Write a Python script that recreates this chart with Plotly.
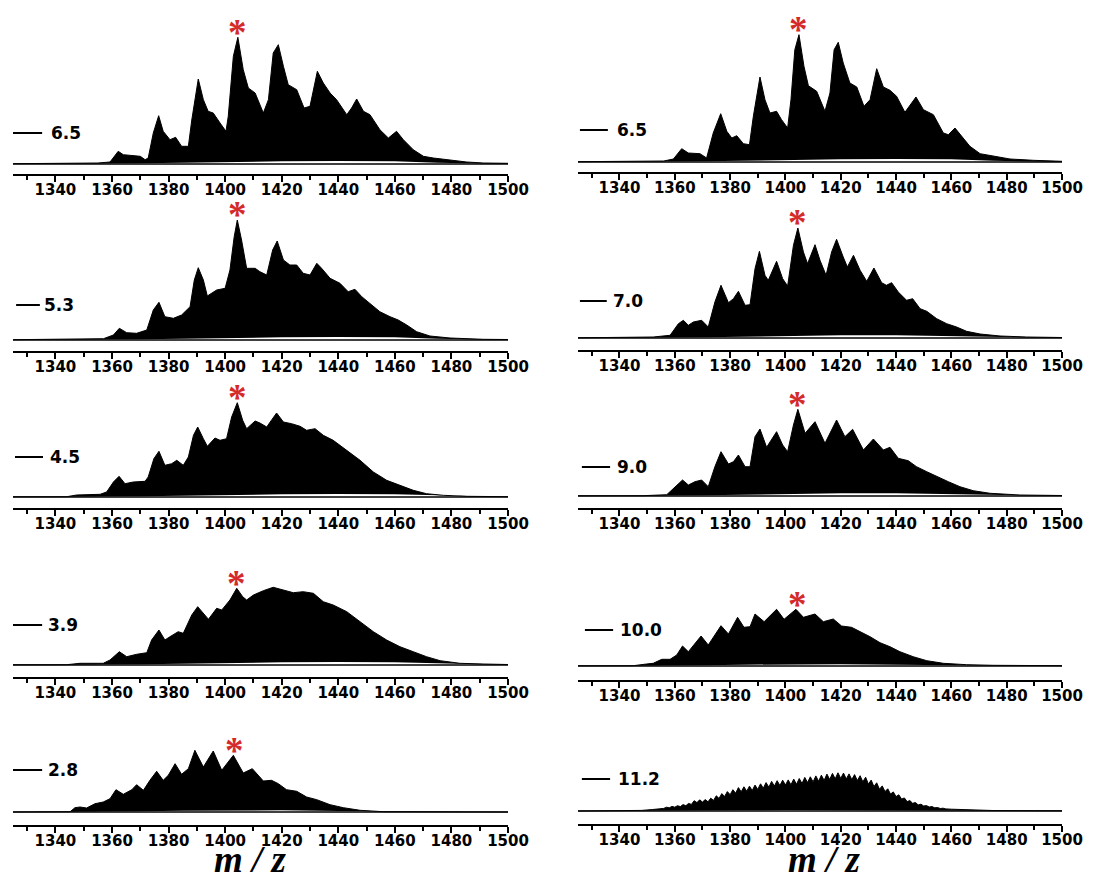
import plotly.graph_objects as go

# ---------------------------------------------------------------------------
# Spectra (m/z, intensity in arbitrary units, common scale for all panels)
# ---------------------------------------------------------------------------
MZ_RANGE = [1325, 1500]

# left column: 6.5, 5.3, 4.5, 3.9, 2.8
MZ_L1 = [1325, 1345, 1355, 1359.3, 1361, 1362.2, 1364, 1370, 1371.7, 1372.8, 1374.6, 1376.5,
         1378.1, 1380.5, 1382.5, 1384.6, 1387, 1388.2, 1390.5, 1392.3, 1394, 1395.8, 1398.2,
         1400.3, 1401.1, 1402.9, 1404.5, 1406.4, 1408.2, 1410.6, 1413.5, 1415.3, 1417, 1418.8,
         1420.6, 1422.3, 1425.3, 1427.9, 1430, 1432.6, 1434.7, 1437.1, 1439.4, 1443, 1444.7,
         1446.5, 1448.9, 1451.2, 1454.7, 1457.7, 1460.6, 1463, 1466.5, 1470.1, 1473.6, 1479.5,
         1485.4, 1491.3, 1500]
INT_L1 = [0.3, 0.7, 1.0, 2.0, 9.0, 12.7, 9.3, 7.7, 4.3, 6.0, 31.0, 48.3,
          32.7, 24.3, 26.7, 17.7, 17.7, 44.0, 85.0, 64.3, 52.7, 51.0, 41.0,
          32.7, 47.7, 107.7, 126.7, 94.3, 76.0, 71.0, 51.0, 64.3, 111.0, 119.3,
          97.7, 79.3, 74.3, 56.0, 57.7, 92.7, 81.0, 71.0, 64.3, 49.3, 56.0,
          65.0, 52.7, 49.3, 34.3, 26.0, 32.7, 24.3, 14.3, 7.7, 6.0, 3.7,
          2.0, 1.0, 0.7]

MZ_L2 = [1325, 1345, 1357, 1360.5, 1362.6, 1365.2, 1368.7, 1372.3, 1374.6, 1376.6, 1378.7,
         1381.7, 1384.6, 1387.6, 1389.1, 1390.5, 1392.3, 1393.7, 1397, 1400, 1401.7, 1403.2,
         1404.3, 1405.8, 1407.6, 1410.6, 1412.3, 1414.7, 1416.8, 1418.4, 1420.6, 1422.9,
         1425.3, 1427.6, 1430, 1432.4, 1434.1, 1437.1, 1440.6, 1443.5, 1445.9, 1448.3, 1451.2,
         1454.7, 1458.3, 1461.2, 1464.2, 1467.7, 1472.4, 1479.5, 1491.3, 1500]
INT_L2 = [0.3, 0.7, 1.3, 5.0, 11.7, 7.3, 6.7, 10.0, 30.0, 37.7, 23.3,
          21.7, 25.0, 33.3, 60.0, 72.3, 60.0, 44.0, 50.0, 51.7, 70.0, 103.3,
          120.0, 100.0, 71.7, 71.7, 68.3, 65.0, 90.0, 99.0, 80.0, 75.0,
          75.0, 66.7, 65.0, 76.7, 71.7, 61.7, 56.7, 48.3, 50.7, 43.3, 36.7,
          28.3, 23.3, 20.0, 15.0, 8.3, 4.0, 2.0, 0.7, 0.5]

MZ_L3 = [1325, 1344, 1347.5, 1355.8, 1358.1, 1360.5, 1362.5, 1364.6, 1367.5, 1371.7, 1372.8,
         1374.8, 1376.6, 1378.7, 1381.1, 1382.9, 1385.2, 1387, 1388.8, 1390.3, 1392.3, 1393.7,
         1396.4, 1398.2, 1400.5, 1402.3, 1404.3, 1406.2, 1407.6, 1410.6, 1412.3, 1414.7,
         1416.5, 1418.2, 1420.6, 1423.5, 1426.5, 1428.8, 1431.8, 1434.7, 1438.2, 1443, 1447.7,
         1452.4, 1457.1, 1461.8, 1466.5, 1471.2, 1477.1, 1485.4, 1500]
INT_L3 = [0.2, 0.3, 2.0, 2.7, 5.0, 15.0, 20.7, 13.3, 15.0, 15.7, 20.0,
          38.3, 45.7, 31.7, 33.3, 36.7, 31.7, 40.0, 61.7, 70.0, 58.3, 50.7,
          59.0, 56.7, 58.3, 80.0, 94.3, 76.7, 68.3, 76.0, 74.0, 70.0,
          77.3, 84.0, 75.0, 73.3, 70.7, 66.7, 68.3, 61.7, 56.7, 46.7, 36.7,
          25.0, 16.7, 11.7, 6.7, 3.3, 1.7, 0.7, 0.3]

MZ_L4 = [1325, 1344, 1348.7, 1356.9, 1359.3, 1362.6, 1365.2, 1368.7, 1372.3, 1374, 1376.6,
         1378.7, 1380.5, 1383.4, 1385.2, 1388.2, 1390.3, 1392.3, 1394.1, 1397, 1398.8, 1401.7,
         1404.1, 1406.2, 1407.6, 1410, 1413.5, 1417, 1420.6, 1424.1, 1427.6, 1431.2, 1434.7,
         1438.2, 1443, 1447.7, 1452.4, 1457.1, 1461.8, 1466.5, 1471.2, 1476, 1483, 1491.3, 1500]
INT_L4 = [0.2, 0.3, 1.7, 1.7, 5.0, 13.3, 8.3, 10.7, 12.3, 25.0, 35.0,
          25.0, 28.3, 33.3, 31.7, 50.0, 58.3, 51.7, 45.7, 56.7, 55.0, 65.0,
          76.7, 68.3, 65.0, 70.0, 74.3, 77.7, 75.0, 72.3, 73.3, 71.7, 63.3,
          60.0, 53.3, 43.3, 33.3, 25.0, 18.3, 13.3, 8.3, 4.3, 1.7, 1.0, 0.5]

MZ_L5 = [1325, 1345.2, 1346.9, 1348.7, 1351, 1354, 1356.9, 1359.3, 1361.4, 1364, 1367,
         1368.7, 1371.1, 1373.4, 1375.8, 1378.1, 1379.9, 1382.3, 1384.6, 1387, 1389.3,
         1392.3, 1395.8, 1398.8, 1402.9, 1406.4, 1409.6, 1413.5, 1416.4, 1418.8, 1421.7,
         1425.3, 1428.8, 1432.4, 1437.1, 1441.8, 1447.7, 1455.9, 1500]
INT_L5 = [0.0, 0.3, 4.3, 5.0, 4.0, 8.3, 10.0, 13.3, 22.3, 17.7, 22.3,
          27.3, 21.7, 31.7, 40.7, 31.7, 36.7, 48.3, 37.7, 43.3, 61.7,
          45.0, 61.0, 41.7, 56.7, 39.0, 43.3, 31.0, 31.7, 28.3, 22.3,
          20.7, 15.0, 12.3, 7.3, 4.3, 1.7, 0.3, 0.0]

# right column: 6.5, 7.0, 9.0, 10.0, 11.2
MZ_R1 = [1325, 1345, 1356, 1359.5, 1362.5, 1364.9, 1369.1, 1371.5, 1373.9, 1376.6, 1378.8,
         1380.6, 1382.4, 1384.8, 1387, 1388.4, 1390.8, 1392.6, 1394.4, 1396.8, 1398.6, 1400.8,
         1402, 1403.4, 1404.9, 1406.7, 1408.3, 1411.3, 1414.3, 1416.1, 1417.6, 1419.1, 1420.9,
         1423.3, 1425.8, 1428.4, 1430.6, 1433, 1435.4, 1437.8, 1440.2, 1443.2, 1445, 1447.2,
         1449.9, 1453.5, 1457.1, 1458.9, 1461.3, 1463.7, 1466.7, 1470.4, 1475.2, 1481.2,
         1489.6, 1500]
INT_R1 = [0.3, 0.7, 1.0, 3.0, 13.3, 9.0, 8.3, 4.0, 29.0, 48.3, 30.7,
          24.0, 26.3, 18.3, 17.3, 45.7, 85.0, 62.3, 49.0, 50.7, 42.3, 34.0,
          62.3, 112.3, 127.3, 95.7, 76.3, 70.7, 50.7, 69.0, 112.3, 119.7, 99.0,
          79.0, 75.0, 55.7, 62.3, 93.3, 75.0, 71.7, 65.7, 49.7, 56.3, 65.0,
          52.3, 47.3, 29.0, 27.3, 34.0, 25.7, 15.7, 8.3, 5.7, 3.0,
          1.7, 0.7]

MZ_R2 = [1325, 1342.6, 1352.2, 1358.3, 1361.3, 1363.1, 1364.9, 1366.7, 1369.7, 1372.1, 1374.5,
         1376.7, 1379.4, 1381.2, 1383, 1385.4, 1387.2, 1389, 1390.6, 1392.6, 1393.8, 1396.8,
         1399, 1400.8, 1402.9, 1404.5, 1406.5, 1408, 1409.5, 1410.7, 1412.5, 1414.7, 1416.7,
         1418.5, 1420.9, 1422.4, 1424.6, 1427, 1429.4, 1432, 1434.8, 1436.5, 1438.4, 1440.8,
         1443.8, 1446, 1448.7, 1451.1, 1454.7, 1458.3, 1461.9, 1465.5, 1470.4, 1477.6,
         1487.2, 1500]
INT_R2 = [0.2, 0.3, 1.0, 2.7, 14.3, 17.7, 12.7, 16.0, 17.7, 11.0, 36.0,
          52.7, 35.3, 39.3, 46.7, 32.7, 33.3, 69.3, 86.7, 62.7, 57.7, 76.7,
          59.3, 52.0, 92.7, 110.0, 86.0, 74.3, 86.0, 93.3, 77.7, 62.7, 86.0,
          98.7, 81.0, 71.0, 82.7, 67.7, 56.7, 70.0, 55.3, 52.7, 55.3, 46.0,
          37.7, 39.3, 29.3, 26.7, 19.3, 14.3, 11.0, 6.7, 4.0, 2.0,
          1.0, 0.5]

MZ_R3 = [1325, 1348.6, 1357.1, 1360.1, 1362.8, 1364.9, 1367.3, 1369.7, 1372.1, 1374.5, 1376.7,
         1379.4, 1381.2, 1383, 1385.4, 1387.2, 1389, 1390.8, 1393.2, 1396.8, 1399, 1400.8,
         1402.9, 1404.5, 1407.1, 1410.7, 1414.3, 1418.5, 1421.5, 1424.3, 1428.2, 1431.8,
         1435.4, 1437.8, 1440.8, 1444.4, 1447.4, 1451.1, 1454.7, 1458.9, 1463.1, 1467.9,
         1474, 1484.8, 1500]
INT_R3 = [0.2, 0.3, 1.3, 9.3, 16.0, 11.0, 14.3, 16.0, 9.3, 29.3, 44.3,
          32.0, 34.3, 41.0, 29.3, 29.3, 59.3, 67.0, 48.7, 64.3, 51.0, 44.3,
          71.0, 86.7, 62.7, 74.3, 52.7, 76.0, 59.3, 66.7, 46.0, 57.0,
          46.0, 48.7, 37.7, 35.3, 29.3, 24.3, 19.3, 14.3, 9.3, 5.3,
          2.7, 1.0, 0.5]

MZ_R4 = [1325, 1345, 1349.8, 1352.2, 1355.3, 1358.3, 1360.7, 1362.8, 1364.9, 1369.5, 1372.1,
         1376.7, 1379.4, 1382.7, 1385, 1387.2, 1389, 1392.3, 1396.8, 1399.5, 1403.8, 1406.5,
         1410.7, 1413.7, 1417.3, 1420.3, 1423.9, 1427, 1430.6, 1434.2, 1437.8, 1441.4,
         1446.2, 1451.1, 1457.1, 1465.5, 1475.2, 1500]
INT_R4 = [0.2, 0.3, 2.0, 2.7, 6.7, 6.7, 11.0, 20.0, 14.3, 30.0, 21.0,
          40.3, 32.0, 48.7, 38.7, 39.3, 52.0, 44.3, 56.7, 46.7, 56.7, 48.7,
          52.0, 44.3, 47.0, 40.0, 38.7, 34.3, 29.3, 23.3, 19.3, 14.3,
          9.3, 5.3, 2.7, 1.3, 0.7, 0.3]

# 11.2: resolved isotope comb
MZ_R5 = [1325, 1340, 1348, 1352, 1355,
         1356, 1357, 1358, 1359, 1360, 1361, 1362, 1363, 1364, 1365, 1366, 1367, 1368, 1369,
         1370, 1371, 1372, 1373, 1374, 1375, 1376, 1377, 1378, 1379, 1380, 1381, 1382, 1383,
         1384, 1385, 1386, 1387, 1388, 1389, 1390, 1391, 1392, 1393, 1394, 1395, 1396, 1397,
         1398, 1399, 1400, 1401, 1402, 1403, 1404, 1405, 1406, 1407, 1408, 1409, 1410, 1411,
         1412, 1413, 1414, 1415, 1416, 1417, 1418, 1419, 1420, 1421, 1422, 1423, 1424, 1425,
         1426, 1427, 1428, 1429, 1430, 1431, 1432, 1433, 1434, 1435, 1436, 1437, 1438, 1439,
         1440, 1441, 1442, 1443, 1444, 1445, 1446, 1447, 1448, 1449, 1450, 1451, 1452, 1453,
         1454, 1455, 1456, 1457, 1458,
         1460, 1466, 1475, 1490, 1500]
INT_R5 = [0.0, 0.2, 0.6, 1.5, 2.4,
          2.6, 3.8, 3.2, 4.6, 3.8, 5.3, 4.4, 6.4, 5.3, 7.6, 6.6, 10.3, 8.4, 11.2,
          8.9, 11.4, 9.2, 12.8, 10.6, 15.2, 12.6, 17.4, 14.5, 19.4, 16.3, 21.3, 17.8, 23.4,
          19.2, 24.2, 19.8, 24.8, 20.5, 25.9, 21.6, 27.2, 22.8, 28.4, 23.8, 29.6, 24.9, 30.3,
          25.5, 30.8, 25.9, 31.1, 26.2, 31.9, 26.7, 32.5, 27.5, 33.6, 28.4, 34.2, 29.1, 35.1,
          29.7, 35.8, 30.6, 36.9, 31.5, 37.6, 32.2, 38.2, 32.6, 37.9, 32.1, 37.1, 31.4, 36.4,
          30.5, 35.3, 29.2, 33.8, 26.9, 30.9, 24.4, 28.2, 21.8, 25.1, 19.4, 22.2, 16.9, 19.1,
          14.4, 16.2, 11.9, 13.1, 9.4, 10.4, 7.7, 8.5, 6.1, 6.8, 5.0, 5.4, 4.0, 4.4,
          3.2, 3.5, 2.5, 2.8, 2.1,
          1.8, 1.0, 0.5, 0.3, 0.2]

# lower edge of the unresolved isotope envelope
LOWER_MZ = [1325, 1355, 1370, 1385, 1400, 1420, 1440, 1460, 1475, 1490, 1500]
LOW_L1 = [0, 0, 0.7, 1.3, 2.0, 2.7, 3.0, 2.7, 1.3, 0.3, 0]
LOW_L2 = [0, 0, 0.7, 1.3, 2.0, 2.7, 3.0, 2.7, 1.3, 0.3, 0]
LOW_L3 = [0, 0, 0.7, 1.3, 2.0, 2.7, 3.0, 2.7, 1.7, 0.3, 0]
LOW_L4 = [0, 0, 0.7, 1.3, 2.0, 2.7, 3.0, 2.7, 1.7, 0.5, 0]
LOW_L5 = [0, 0, 0.7, 1.3, 1.7, 1.7, 1.0, 0.3, 0, 0, 0]
LOW_R1 = [0, 0, 0.7, 1.3, 2.0, 2.7, 3.0, 2.7, 1.3, 0.3, 0]
LOW_R2 = [0, 0, 0.7, 1.3, 2.0, 2.7, 2.7, 2.0, 1.0, 0.3, 0]
LOW_R3 = [0, 0, 0.7, 1.3, 2.0, 2.7, 2.7, 2.0, 1.0, 0.3, 0]
LOW_R4 = [0, 0, 0.7, 1.3, 1.7, 1.7, 1.3, 0.7, 0.3, 0, 0]
LOW_R5 = [0, 0, 0.3, 0.7, 1.0, 1.0, 1.0, 0.7, 0.3, 0, 0]

LABELS_LEFT = ["6.5", "5.3", "4.5", "3.9", "2.8"]
LABELS_RIGHT = ["6.5", "7.0", "9.0", "10.0", "11.2"]
# m/z of the starred species in each panel (None = not marked)
STAR_LEFT = [1404.5, 1404.3, 1404.3, 1404.1, 1403.4]
STAR_RIGHT = [1404.9, 1404.5, 1404.5, 1404.2, None]

TICK_MAJOR = 1340
TICK_STEP = 20
TICK_MINOR = 1330

# ---------------------------------------------------------------------------
# Page geometry (pixels)
# ---------------------------------------------------------------------------
W, H = 1096, 881
PANEL_H = 160
COLS = {"L": (13, 508), "R": (578, 1062)}
# (baseline px, axis line px) per row
ROWS_L = [(164, 174), (340, 351), (497, 508), (665, 677), (812, 825)]
ROWS_R = [(162, 172), (338, 350), (496, 508), (666, 680), (811, 824)]
# label dash (x0, x1, y) and text x, in data units of each panel
LAB_L = [(1325.0, 1335.3, 31, 1337.6), (1326.1, 1334.5, 35, 1335.4), (1325.7, 1335.6, 40, 1337.2),
         (1325.0, 1335.3, 40, 1336.8), (1325.0, 1335.3, 42, 1336.8)]
LAB_R = [(1325.7, 1335.8, 32, 1338.2), (1325.7, 1335.4, 37, 1337.1), (1326.4, 1336.6, 29, 1338.2),
         (1327.5, 1337.7, 36, 1339.3), (1326.4, 1336.6, 32, 1338.9)]

SPECTRA_L = [(MZ_L1, INT_L1, LOW_L1), (MZ_L2, INT_L2, LOW_L2), (MZ_L3, INT_L3, LOW_L3),
             (MZ_L4, INT_L4, LOW_L4), (MZ_L5, INT_L5, LOW_L5)]
SPECTRA_R = [(MZ_R1, INT_R1, LOW_R1), (MZ_R2, INT_R2, LOW_R2), (MZ_R3, INT_R3, LOW_R3),
             (MZ_R4, INT_R4, LOW_R4), (MZ_R5, INT_R5, LOW_R5)]

STAR_RED = "#d42a2a"
STAR_GAP = 11

panels = []
for i in range(5):
    panels.append(dict(col="L", row=ROWS_L[i], spec=SPECTRA_L[i], label=LABELS_LEFT[i],
                       lab=LAB_L[i], star=STAR_LEFT[i]))
for i in range(5):
    panels.append(dict(col="R", row=ROWS_R[i], spec=SPECTRA_R[i], label=LABELS_RIGHT[i],
                       lab=LAB_R[i], star=STAR_RIGHT[i]))

fig = go.Figure()
layout = dict(width=W, height=H, margin=dict(l=0, r=0, t=0, b=0, pad=0, autoexpand=False),
              autosize=False, template="none",
              paper_bgcolor="white", plot_bgcolor="rgba(0,0,0,0)", showlegend=False)
annotations, shapes = [], []

for k, p in enumerate(panels, start=1):
    xa = "x" if k == 1 else f"x{k}"
    ya = "y" if k == 1 else f"y{k}"
    base_px, axis_px = p["row"]
    off = axis_px - base_px
    x0, x1 = COLS[p["col"]]
    mz, inten, low = p["spec"]

    fig.add_trace(go.Scatter(x=LOWER_MZ, y=low, mode="lines", line=dict(width=0, color="black"),
                             xaxis=xa, yaxis=ya, hoverinfo="skip"))
    fig.add_trace(go.Scatter(x=mz, y=inten, mode="lines", line=dict(width=1, color="black"),
                             fill="tonexty", fillcolor="black", xaxis=xa, yaxis=ya,
                             hoverinfo="skip"))
    fig.add_trace(go.Scatter(x=MZ_RANGE, y=[0, 0], mode="lines",
                             line=dict(width=1.6, color="black"), xaxis=xa, yaxis=ya,
                             hoverinfo="skip"))

    layout["xaxis" if k == 1 else f"xaxis{k}"] = dict(
        domain=[x0 / W, x1 / W], range=MZ_RANGE, anchor=ya, automargin=False,
        showline=True, linecolor="black", linewidth=2, showgrid=False, zeroline=False,
        ticks="outside", ticklen=6, tickwidth=1.5, tickcolor="black",
        tick0=TICK_MAJOR, dtick=TICK_STEP, ticklabelstandoff=-5,
        minor=dict(tick0=TICK_MINOR, dtick=TICK_STEP, ticks="outside", ticklen=4,
                   tickwidth=1.5, tickcolor="black", showgrid=False),
        tickfont=dict(family="DejaVu Sans", size=15, color="black", weight="bold"),
        fixedrange=True)
    layout["yaxis" if k == 1 else f"yaxis{k}"] = dict(
        domain=[1 - axis_px / H, 1 - (axis_px - PANEL_H) / H], automargin=False,
        range=[-off, PANEL_H - off], anchor=xa, visible=False, fixedrange=True)

    lx0, lx1, ly, tx = p["lab"]
    shapes.append(dict(type="line", xref=xa, yref=ya, x0=lx0, x1=lx1, y0=ly, y1=ly,
                       line=dict(color="black", width=2)))
    annotations.append(dict(xref=xa, yref=ya, x=tx, y=ly, text=p["label"], showarrow=False,
                            xanchor="left", yanchor="middle",
                            font=dict(family="DejaVu Sans", size=17, color="black",
                                      weight="bold")))

    if p["star"] is not None:
        near = [v for m, v in zip(mz, inten) if abs(m - p["star"]) <= 1.5]
        peak = max(near)
        annotations.append(dict(xref=xa, yref=ya, x=p["star"], y=peak + STAR_GAP, text="*",
                                showarrow=False, xanchor="center", yanchor="middle",
                                yshift=-6,
                                font=dict(family="Liberation Serif", size=37, color=STAR_RED,
                                          weight="bold")))

# axis titles
for cx in (250, 824):
    annotations.append(dict(xref="paper", yref="paper", x=cx / W, y=0,
                            text="<b><i>m / z</i></b>", showarrow=False,
                            xanchor="center", yanchor="bottom", borderpad=0,
                            font=dict(family="Liberation Serif", size=37, color="black")))

layout["annotations"] = annotations
layout["shapes"] = shapes
fig.update_layout(**layout)
fig.write_html("out.html")
